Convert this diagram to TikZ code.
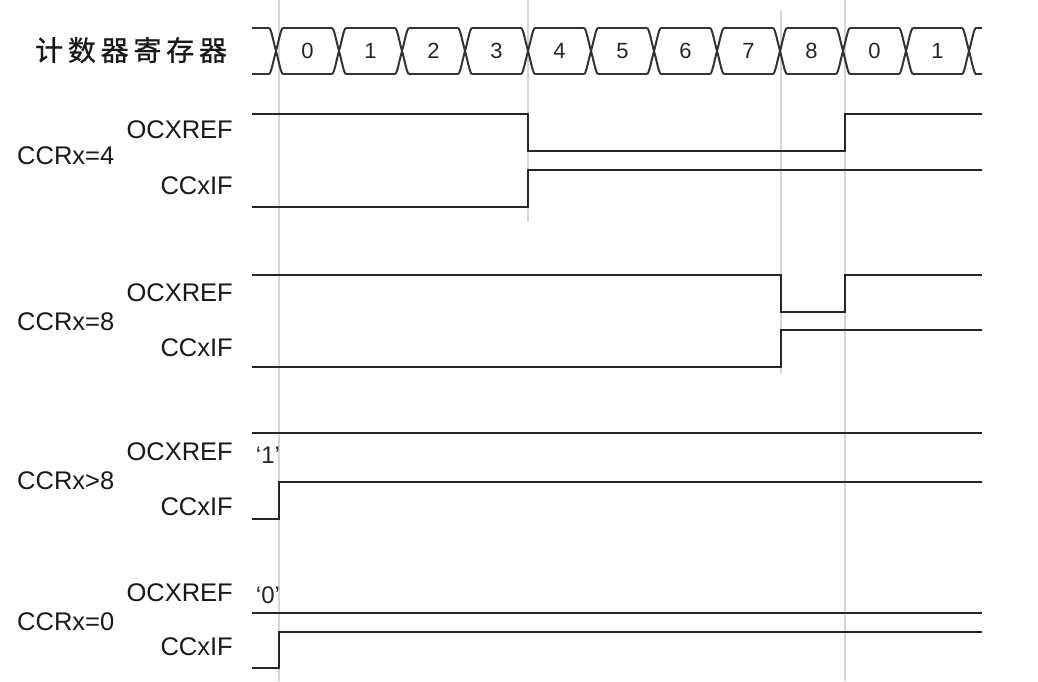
\documentclass[tikz,border=0pt]{standalone}
\usepackage{fontspec}
\setmainfont{Liberation Sans}
\newfontfamily\cjkfont[LetterSpace=17,FakeBold=0.8]{Noto Sans CJK SC}
\begin{document}
\begin{tikzpicture}[x=1pt,y=-1pt,
  sig/.style={line width=2.4pt, draw=black!85, line join=miter},
  gridline/.style={line width=1.5pt, draw=black!16},
  bus/.style={line width=2pt, draw=black!80},
  lab/.style={font=\fontsize{25.5}{30}\selectfont, text=black!90, inner sep=0pt},
  num/.style={font=\fontsize{22}{26}\selectfont, text=black!85, inner sep=0pt},
  quo/.style={font=\fontsize{24}{28}\selectfont, text=black!85, inner sep=0pt}]
\useasboundingbox (0,0) rectangle (1038,681);

% gray guide lines
\draw[gridline] (279,0) -- (279,681);
\draw[gridline] (528,0) -- (528,222);
\draw[gridline] (781,10) -- (781,374);
\draw[gridline] (845,0) -- (845,681);

% counter bus
\node[anchor=west, inner sep=0pt, font=\fontsize{28}{32}\selectfont, text=black!90] (title) at (35,50) {\cjkfont 计数器寄存器};
\draw[bus] (252,28) -- (269,28);
\draw[bus] (252,74) -- (269,74);
\foreach \k in {0,...,11} {
  \pgfmathsetmacro{\c}{276+63*\k}
  \draw[bus] (\c-7,28) .. controls (\c-5,28) and (\c-3,40) .. (\c,51) .. controls (\c+3,62) and (\c+5,74) .. (\c+7,74);
  \draw[bus] (\c-7,74) .. controls (\c-5,74) and (\c-3,62) .. (\c,51) .. controls (\c+3,40) and (\c+5,28) .. (\c+7,28);
}
\foreach \k in {0,...,10} {
  \pgfmathsetmacro{\a}{276+63*\k+7}
  \pgfmathsetmacro{\b}{276+63*(\k+1)-7}
  \draw[bus] (\a,28) -- (\b,28);
  \draw[bus] (\a,74) -- (\b,74);
}
\draw[bus] (975,28) -- (982,28);
\draw[bus] (975,74) -- (982,74);
\foreach \d [count=\i from 0] in {0,1,2,3,4,5,6,7,8,0,1}
  \node[num] (n\i) at ({276+63*\i+31.5},51) {\d};

% row 1: CCRx=4
\node[lab, anchor=west] (r1) at (17,156) {CCRx=4};
\node[lab, anchor=east] (r1a) at (233,130) {OCXREF};
\node[lab, anchor=east] (r1b) at (233,186) {CCxIF};
\draw[sig] (252,114) -- (528,114) -- (528,151) -- (845,151) -- (845,114) -- (982,114);
\draw[sig] (252,207) -- (528,207) -- (528,170) -- (982,170);

% row 2: CCRx=8
\node[lab, anchor=west] (r2) at (17,322) {CCRx=8};
\node[lab, anchor=east] (r2a) at (233,293) {OCXREF};
\node[lab, anchor=east] (r2b) at (233,348) {CCxIF};
\draw[sig] (252,275) -- (781,275) -- (781,312) -- (845,312) -- (845,275) -- (982,275);
\draw[sig] (252,367) -- (781,367) -- (781,330) -- (982,330);

% row 3: CCRx>8
\node[lab, anchor=west] (r3) at (17,481) {CCRx>8};
\node[lab, anchor=east] (r3a) at (233,452) {OCXREF};
\node[lab, anchor=east] (r3b) at (233,507) {CCxIF};
\node[quo] (q1) at (268,455) {‘1’};
\draw[sig] (252,433) -- (982,433);
\draw[sig] (252,519) -- (279,519) -- (279,482) -- (982,482);

% row 4: CCRx=0
\node[lab, anchor=west] (r4) at (17,622) {CCRx=0};
\node[lab, anchor=east] (r4a) at (233,593) {OCXREF};
\node[lab, anchor=east] (r4b) at (233,647) {CCxIF};
\node[quo] (q0) at (268,595) {‘0’};
\draw[sig] (252,613) -- (982,613);
\draw[sig] (252,668) -- (279,668) -- (279,632) -- (982,632);
\end{tikzpicture}
\end{document}
